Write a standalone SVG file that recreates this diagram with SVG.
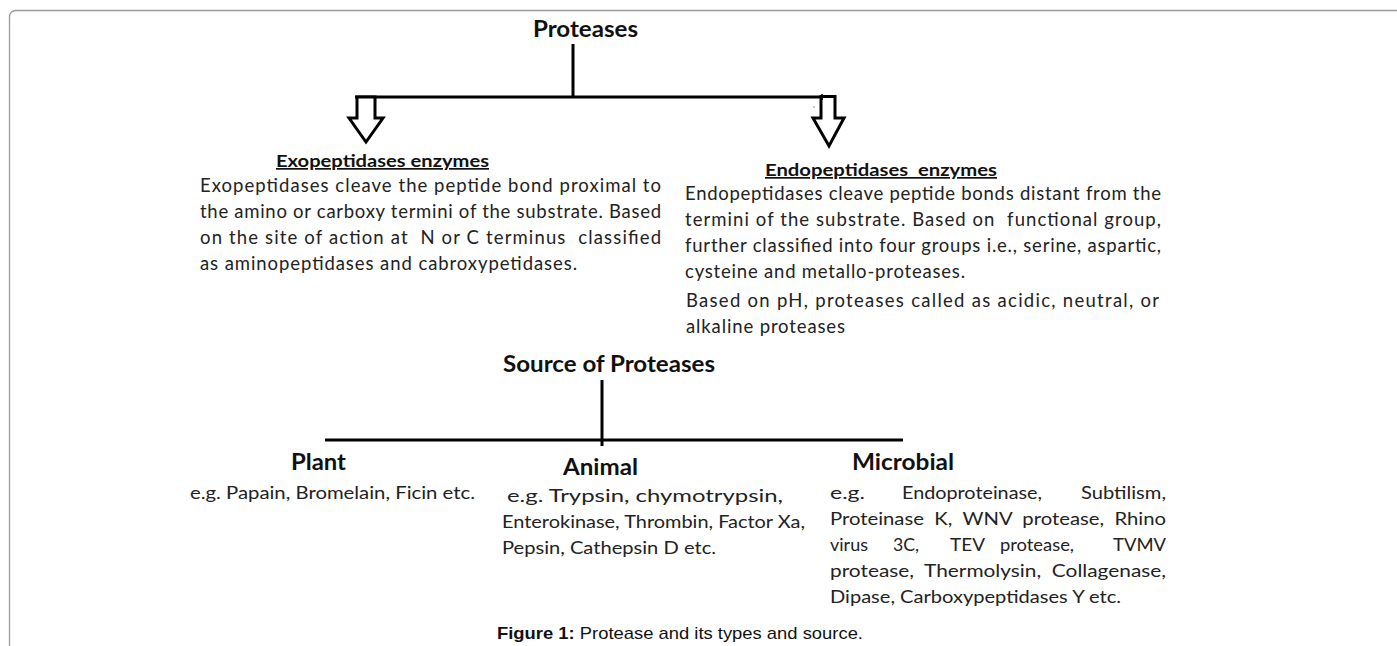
<svg xmlns="http://www.w3.org/2000/svg" width="1397" height="646" viewBox="0 0 1397 646">
<style>
.frame{fill:none;stroke:#9a9a9a;stroke-width:1.3}
.ln{stroke:#000;stroke-width:3;fill:none}
.arr{fill:#fff;stroke:#000;stroke-width:3;stroke-linejoin:miter}
.h1{font-family:Lato,"Open Sans",sans-serif;font-weight:bold;font-size:22px;fill:#111}
.h2{font-family:Lato,"Open Sans",sans-serif;font-weight:bold;font-size:17px;fill:#111;text-decoration:underline}
.b{font-family:Lato,"Open Sans",sans-serif;font-size:18.5px;fill:#222}
.c{font-family:Lato,"Open Sans",sans-serif;font-size:18px;fill:#222}
.hs{font-family:Lato,"Open Sans",sans-serif;font-weight:bold;font-size:22px;fill:#111}
.cap{font-family:"Liberation Sans",Arial,sans-serif;font-size:17px;fill:#111}
</style>
<rect class="frame" x="9.5" y="10.5" width="1420" height="700" rx="6"/>
<g id="connectors">
<line class="ln" x1="573" y1="44" x2="573" y2="97"/>
<line class="ln" x1="355" y1="97" x2="822" y2="97"/>
<path class="arr" d="M357,97 L375,97 L375,118 L383,118 L366,142 L349,118 L357,118 Z"/>
<path class="arr" d="M821,96.5 L835,96.5 L835,118 L844,118 L829,146 L813,118 L821,118 Z"/>
<line stroke="#000" stroke-width="1.5" x1="822" y1="94" x2="822" y2="100"/>
<rect x="813.5" y="106.5" width="1" height="1" fill="#333"/>
<line class="ln" x1="602" y1="380" x2="602" y2="446"/>
<line class="ln" x1="325" y1="440" x2="903" y2="440"/>
</g>
<g id="proteases">
<text class="h1" x="533" y="37" textLength="105" lengthAdjust="spacingAndGlyphs">Proteases</text>
</g>
<g id="exopeptidases">
<text class="h2" x="276" y="167" textLength="213" lengthAdjust="spacingAndGlyphs">Exopeptidases enzymes</text>
<text class="b" x="200" y="192" textLength="461" lengthAdjust="spacing">Exopeptidases cleave the peptide bond proximal to</text>
<text class="b" x="200" y="218" textLength="461" lengthAdjust="spacing">the amino or carboxy termini of the substrate. Based</text>
<text class="b" x="200" y="244" textLength="461" lengthAdjust="spacing" xml:space="preserve">on the site of action at  N or C terminus  classified</text>
<text class="b" x="200" y="270" textLength="377" lengthAdjust="spacing">as aminopeptidases and cabroxypetidases.</text>
</g>
<g id="endopeptidases">
<text class="h2" x="765" y="176" textLength="232" lengthAdjust="spacingAndGlyphs" xml:space="preserve">Endopeptidases  enzymes</text>
<text class="b" x="685" y="200" textLength="476" lengthAdjust="spacing">Endopeptidases cleave peptide bonds distant from the</text>
<text class="b" x="685" y="226" textLength="476" lengthAdjust="spacing" xml:space="preserve">termini of the substrate. Based on  functional group,</text>
<text class="b" x="685" y="252" textLength="476" lengthAdjust="spacing">further classified into four groups i.e., serine, aspartic,</text>
<text class="b" x="685" y="278" textLength="280" lengthAdjust="spacing">cysteine and metallo-proteases.</text>
<text class="b" x="686" y="307" textLength="473" lengthAdjust="spacing">Based on pH, proteases called as acidic, neutral, or</text>
<text class="b" x="686" y="333" textLength="159" lengthAdjust="spacing">alkaline proteases</text>
</g>
<g id="source">
<text class="hs" x="503" y="372" textLength="212" lengthAdjust="spacingAndGlyphs">Source of Proteases</text>
</g>
<g id="plant">
<text class="hs" x="291" y="470" textLength="55" lengthAdjust="spacingAndGlyphs">Plant</text>
<text class="c" x="190" y="499" textLength="285" lengthAdjust="spacingAndGlyphs">e.g. Papain, Bromelain, Ficin etc.</text>
</g>
<g id="animal">
<text class="hs" x="563" y="475" textLength="75" lengthAdjust="spacingAndGlyphs">Animal</text>
<text class="c" x="507" y="502" textLength="276" lengthAdjust="spacingAndGlyphs">e.g. Trypsin, chymotrypsin,</text>
<text class="c" x="502" y="528" textLength="303" lengthAdjust="spacingAndGlyphs">Enterokinase, Thrombin, Factor Xa,</text>
<text class="c" x="502" y="554" textLength="214" lengthAdjust="spacingAndGlyphs">Pepsin, Cathepsin D etc.</text>
</g>
<g id="microbial">
<text class="hs" x="852" y="470" textLength="102" lengthAdjust="spacingAndGlyphs">Microbial</text>
<text class="c" x="830" y="499" textLength="35" lengthAdjust="spacingAndGlyphs">e.g.</text>
<text class="c" x="902" y="499" textLength="140" lengthAdjust="spacingAndGlyphs">Endoproteinase,</text>
<text class="c" x="1081" y="499" textLength="85" lengthAdjust="spacingAndGlyphs">Subtilism,</text>
<text class="c" x="830" y="525" textLength="336" lengthAdjust="spacingAndGlyphs" xml:space="preserve">Proteinase  K,  WNV  protease,  Rhino</text>
<text class="c" x="830" y="551" textLength="38" lengthAdjust="spacingAndGlyphs">virus</text>
<text class="c" x="893" y="551" textLength="26" lengthAdjust="spacingAndGlyphs">3C,</text>
<text class="c" x="950" y="551" textLength="35" lengthAdjust="spacingAndGlyphs">TEV</text>
<text class="c" x="1000" y="551" textLength="74" lengthAdjust="spacingAndGlyphs">protease,</text>
<text class="c" x="1113" y="551" textLength="53" lengthAdjust="spacingAndGlyphs">TVMV</text>
<text class="c" x="830" y="577" textLength="336" lengthAdjust="spacingAndGlyphs" xml:space="preserve">protease,  Thermolysin,  Collagenase,</text>
<text class="c" x="830" y="603" textLength="291" lengthAdjust="spacingAndGlyphs">Dipase, Carboxypeptidases Y etc.</text>
</g>
<g id="caption">
<text class="cap" x="497" y="639" textLength="366" lengthAdjust="spacingAndGlyphs"><tspan font-weight="bold">Figure 1:</tspan> Protease and its types and source.</text>
</g>
</svg>
